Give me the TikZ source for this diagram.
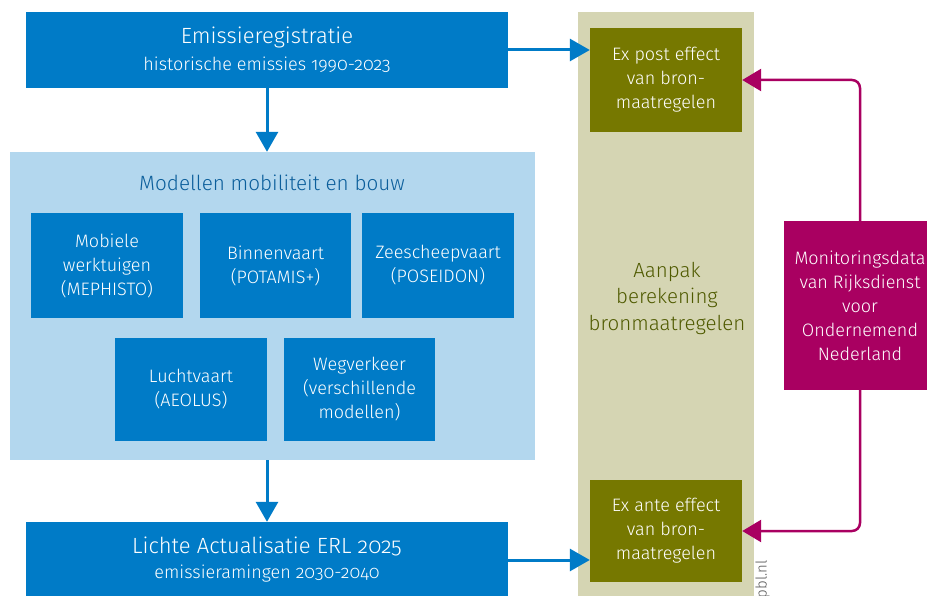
\documentclass[tikz,border=0pt]{standalone}
\usepackage{fontspec}
\setmainfont{Fira Sans Light}[Numbers=OldStyle]
\usetikzlibrary{arrows.meta}
\definecolor{rblue}{HTML}{007BC7}
\definecolor{lblue}{HTML}{B3D7EE}
\definecolor{tblue}{HTML}{0B5E9B}
\definecolor{tan}{HTML}{D5D5B3}
\definecolor{olive}{HTML}{767800}
\definecolor{otext}{HTML}{4F5A00}
\definecolor{mag}{HTML}{A90061}
\tikzset{
  box/.style={fill=#1, draw=none, inner sep=0pt, align=center, text=white},
  midt/.style={font=\fontsize{18}{24}\selectfont},
  barrow/.style={draw=rblue, line width=3pt, -{Triangle[length=20pt,width=22pt]}},
  marrow/.style={draw=mag, line width=2.5pt, rounded corners=8pt, -{Triangle[length=19pt,width=22pt]}},
}
\begin{document}
\begin{tikzpicture}[x=1pt,y=-1pt]
\useasboundingbox (0,0) rectangle (927,596);
\clip (0,0) rectangle (927,596);
% left column
\node[box=rblue, minimum width=482pt, minimum height=76pt] (emis) at (267,50)
  {{\fontsize{22}{24}\selectfont Emissieregistratie}\\[8pt]{\fontsize{18}{20}\selectfont historische emissies 1990-2023}};
\node[box=lblue, minimum width=525pt, minimum height=308pt] (models) at (272.5,306) {};
\node[text=tblue, font=\fontsize{20.7}{24}\selectfont, inner sep=0pt] (mtitle) at (272,183) {Modellen mobiliteit en bouw};
\node[box=rblue, minimum width=152pt, minimum height=105pt, midt] (m1) at (107,265.5) {Mobiele\\werktuigen\\(MEPHISTO)};
\node[box=rblue, minimum width=151pt, minimum height=105pt, midt] (m2) at (275.5,265.5) {Binnenvaart\\(POTAMIS+)};
\node[box=rblue, minimum width=152pt, minimum height=105pt, midt] (m3) at (438,265.5) {Zeescheepvaart\\(POSEIDON)};
\node[box=rblue, minimum width=152pt, minimum height=103pt, midt] (m4) at (191,389.5) {Luchtvaart\\(AEOLUS)};
\node[box=rblue, minimum width=151pt, minimum height=103pt, midt] (m5) at (359.5,389.5) {Wegverkeer\\(verschillende\\modellen)};
\node[box=rblue, minimum width=482pt, minimum height=76pt] (lichte) at (267,560)
  {{\fontsize{22}{24}\selectfont Lichte Actualisatie ERL 2025}\\[8pt]{\fontsize{18}{20}\selectfont emissieramingen 2030-2040}};
% middle column
\node[box=tan, minimum width=176pt, minimum height=590pt] (col) at (666,307) {};
\node[box=olive, minimum width=152pt, minimum height=104pt, midt] (expost) at (666,80) {Ex post effect\\van bron-\\maatregelen};
\node[box=olive, minimum width=152pt, minimum height=102pt, midt] (exante) at (666,531) {Ex ante effect\\van bron-\\maatregelen};
\node[text=otext, align=center, inner sep=0pt, font=\fontsize{20.5}{26.5}\selectfont] (aanpak) at (667,298) {Aanpak\\berekening\\bronmaatregelen};
% right
\node[box=mag, minimum width=152pt, minimum height=169pt, midt] (mon) at (860,305.5) {Monitoringsdata\\van Rijksdienst\\voor\\Ondernemend\\Nederland};
\node[rotate=90, anchor=south east, inner sep=0pt, text=black!65, font=\fontsize{15}{15}\selectfont] (pbl) at (770,560) {pbl.nl};
% connectors
\draw[barrow] (emis.south) -- (emis.south |- models.north);
\draw[barrow] (emis.south |- models.south) -- (lichte.north);
\draw[barrow] (emis.east) -- (emis.east -| expost.west);
\draw[barrow] (lichte.east) -- (lichte.east -| exante.west);
\draw[marrow] (mon.north) |- (expost.east);
\draw[marrow] (mon.south) |- (exante.east);
\end{tikzpicture}
\end{document}
